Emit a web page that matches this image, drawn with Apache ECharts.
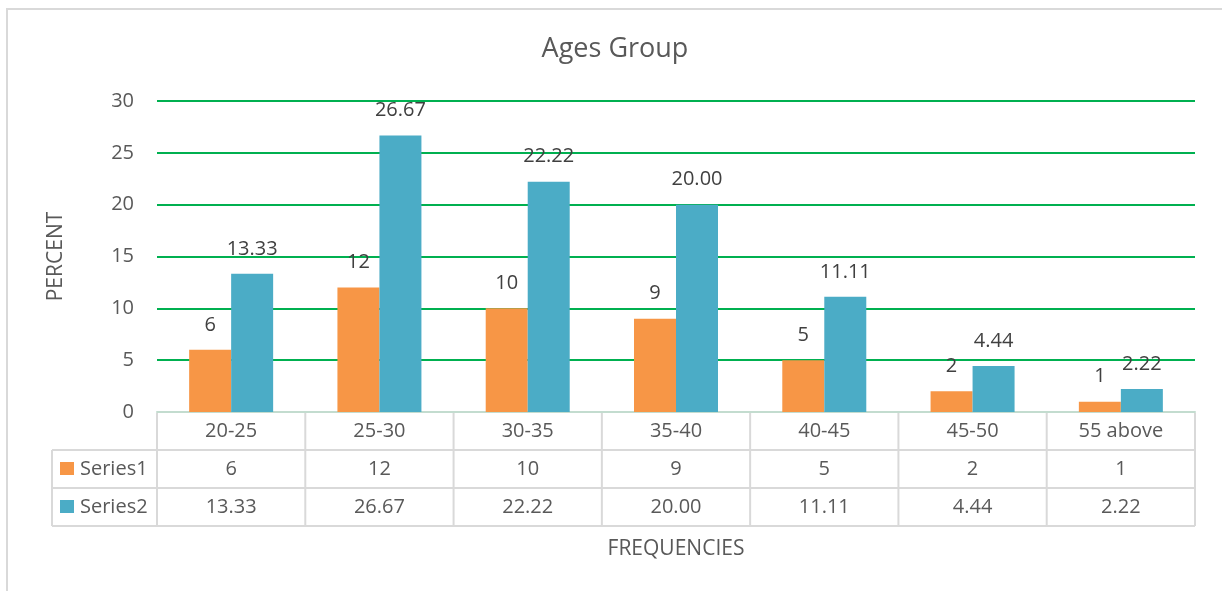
<!DOCTYPE html>
<html>
<head>
<meta charset="utf-8">
<title>Ages Group</title>
<script src="https://cdn.jsdelivr.net/npm/echarts@6/dist/echarts.min.js"></script>
<style>
  html, body { margin: 0; padding: 0; background: #fff; }
  #chart { width: 1222px; height: 591px; }
</style>
</head>
<body>
<div id="chart"></div>
<script>
// Age groups and the two series shown in the bars and in the data table
const categories = ['20-25', '25-30', '30-35', '35-40', '40-45', '45-50', '55 above'];
const seriesNames = ['Series1', 'Series2'];
const series1 = [6, 12, 10, 9, 5, 2, 1];
const series2 = [13.33, 26.67, 22.22, 20.00, 11.11, 4.44, 2.22];
const yTicks = [0, 5, 10, 15, 20, 25, 30];
const titleText = 'Ages Group';
const yName = 'PERCENT';
const xName = 'FREQUENCIES';

const FONT = '"Open Sans", "Liberation Sans", sans-serif';
const TEXT = '#595959';
const LABEL = '#404040';
const BORDER = '#d9d9d9';
const COLORS = ['#F79646', '#4BACC6'];

const fmt2 = v => v.toFixed(2);
const fmtInt = v => String(v);
const formatters = [fmtInt, fmt2];
const seriesData = [series1, series2];

const chart = echarts.init(document.getElementById('chart'), null, { renderer: 'canvas' });

chart.setOption({
  animation: false,
  backgroundColor: '#fff',
  grid: { left: 157, right: 27, top: 101, bottom: 179, containLabel: false },
  xAxis: {
    type: 'category',
    data: categories,
    axisLine: { show: true, lineStyle: { color: '#c3dccf', width: 2 } },
    axisTick: { show: false },
    axisLabel: {
      fontFamily: FONT, fontSize: 20, color: TEXT, margin: 9, lineHeight: 20, interval: 0
    },
    splitLine: { show: false }
  },
  yAxis: {
    type: 'value',
    min: yTicks[0],
    max: yTicks[yTicks.length - 1],
    interval: yTicks[1] - yTicks[0],
    axisLine: { show: false },
    axisTick: { show: false },
    axisLabel: { fontFamily: FONT, fontSize: 20, color: TEXT, margin: 23 },
    splitLine: { show: true, lineStyle: { color: '#00B050', width: 2 } }
  },
  series: seriesData.map((data, i) => ({
    name: seriesNames[i],
    type: 'bar',
    data: data,
    barWidth: 42,
    barGap: '0%',
    itemStyle: { color: COLORS[i] },
    label: {
      show: true,
      position: 'top',
      distance: 15,
      fontFamily: FONT,
      fontSize: 20,
      color: LABEL,
      formatter: p => formatters[i](p.value)
    }
  }))
});

// Data table, axis names, title and frame, placed from the axis scales
function buildGraphics() {
  const c0 = chart.convertToPixel({ xAxisIndex: 0 }, categories[0]);
  const c1 = chart.convertToPixel({ xAxisIndex: 0 }, categories[1]);
  const band = c1 - c0;
  const left = c0 - band / 2;
  const right = left + band * categories.length;
  const baseY = chart.convertToPixel({ yAxisIndex: 0 }, yTicks[0]);
  const topY = chart.convertToPixel({ yAxisIndex: 0 }, yTicks[yTicks.length - 1]);
  const rowH = 38;
  const keyLeft = 52;
  const els = [];

  // frame around the chart
  els.push({
    type: 'rect', silent: true, z: 0,
    shape: { x: 7, y: 9, width: 1240, height: 620 },
    style: { fill: null, stroke: BORDER, lineWidth: 2 }
  });

  // title, centred over the whole frame
  els.push({
    type: 'text', z: 10,
    style: {
      text: titleText, x: 615, y: 49,
      align: 'center', verticalAlign: 'middle',
      font: '27px ' + FONT, fill: TEXT
    }
  });

  // y-axis name
  els.push({
    type: 'text', z: 10, x: 56, y: (baseY + topY) / 2, rotation: Math.PI / 2,
    style: {
      text: yName, x: 0, y: 0, align: 'center', verticalAlign: 'middle',
      font: '21px ' + FONT, fill: TEXT
    }
  });

  // x-axis name
  els.push({
    type: 'text', z: 10,
    style: {
      text: xName, x: (left + right) / 2, y: 549,
      align: 'center', verticalAlign: 'middle',
      font: '21px ' + FONT, fill: TEXT
    }
  });

  const line = (x1, y1, x2, y2) => ({
    type: 'line', silent: true, z: 5,
    shape: { x1, y1, x2, y2 },
    style: { stroke: BORDER, lineWidth: 2 }
  });

  const tableBottom = baseY + rowH * 3;
  // vertical column borders
  for (let k = 0; k <= categories.length; k++) {
    const x = left + band * k;
    els.push(line(x, baseY + 1, x, tableBottom));
  }
  els.push(line(keyLeft, baseY + rowH, keyLeft, tableBottom));
  // horizontal row borders
  for (let r = 1; r <= 3; r++) {
    const y = baseY + rowH * r;
    els.push(line(keyLeft, y, right, y));
  }

  // value rows with legend keys
  seriesData.forEach((data, i) => {
    const cy = baseY + rowH * (i + 1) + rowH / 2;
    els.push({
      type: 'rect', z: 6,
      shape: { x: 60, y: cy - 7, width: 14, height: 13 },
      style: { fill: COLORS[i] }
    });
    els.push({
      type: 'text', z: 6,
      style: {
        text: seriesNames[i], x: 80, y: cy, align: 'left', verticalAlign: 'middle',
        font: '20px ' + FONT, fill: TEXT
      }
    });
    data.forEach((v, j) => {
      const cx = chart.convertToPixel({ xAxisIndex: 0 }, categories[j]);
      els.push({
        type: 'text', z: 6,
        style: {
          text: formatters[i](v), x: cx, y: cy, align: 'center', verticalAlign: 'middle',
          font: '20px ' + FONT, fill: TEXT
        }
      });
    });
  });

  chart.setOption({ graphic: els });
}

buildGraphics();
</script>
</body>
</html>
